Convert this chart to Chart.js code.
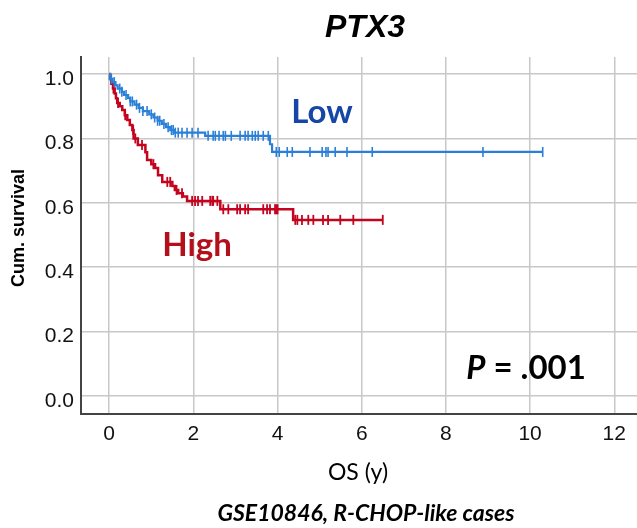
<!DOCTYPE html>
<html>
<head>
<meta charset="utf-8">
<script src="https://cdn.jsdelivr.net/npm/chart.js@4.4.1/dist/chart.umd.min.js"></script>
<style>
  body { margin: 0; background: #fff; }
  #wrap { width: 637px; height: 528px; }
</style>
</head>
<body>
<div id="wrap"><canvas id="kmChart" width="637" height="528"></canvas></div>
<script>
// Kaplan-Meier steps: time (years) and survival after that event
const lowTimes = [0, 0.02, 0.08, 0.15, 0.2, 0.3, 0.35, 0.45, 0.5, 0.6, 0.7, 0.8, 0.95, 1.05, 1.15, 1.25, 1.35, 1.45, 1.55, 2.28, 3.82, 3.87];
const lowSurv  = [1, 0.985, 0.975, 0.965, 0.955, 0.945, 0.935, 0.925, 0.915, 0.905, 0.895, 0.885, 0.875, 0.865, 0.855, 0.845, 0.835, 0.826, 0.818, 0.808, 0.782, 0.758];
const lowCensored = [0.05, 0.12, 0.25, 0.3, 0.4, 0.5, 0.55, 0.65, 0.72, 0.8, 0.9, 1.0, 1.08, 1.15, 1.2, 1.3, 1.4, 1.48, 1.52,
  1.57, 1.64, 1.73, 1.85, 1.97, 2.11, 2.35, 2.47, 2.52, 2.61, 2.71, 2.76, 2.9, 3.11, 3.23, 3.3, 3.4, 3.47, 3.54, 3.66, 3.78,
  3.97, 4.04, 4.23, 4.35, 4.77, 5.06, 5.15, 5.2, 5.37, 5.65, 6.25, 8.88, 10.3];

const highTimes = [0, 0.02, 0.05, 0.09, 0.13, 0.16, 0.19, 0.25, 0.31, 0.37, 0.43, 0.49, 0.55, 0.58, 0.68, 0.86, 0.9, 1.0, 1.09, 1.16, 1.26, 1.5, 1.56, 1.64, 1.75, 1.85, 2.64, 4.37];
const highSurv  = [1, 0.985, 0.97, 0.955, 0.94, 0.925, 0.91, 0.9, 0.888, 0.872, 0.857, 0.842, 0.826, 0.8, 0.78, 0.757, 0.733, 0.72, 0.708, 0.686, 0.665, 0.652, 0.64, 0.63, 0.62, 0.606, 0.58, 0.547];
const highCensored = [0.1, 0.21, 0.38, 0.57, 0.62, 0.78, 1.05, 1.38, 1.45, 1.6, 1.73,
  1.97, 2.04, 2.11, 2.21, 2.4, 2.45, 2.47, 2.57, 2.71, 2.83, 3.04, 3.11, 3.23, 3.3, 3.66, 3.75, 3.82, 3.94, 3.97, 4.0,
  4.42, 4.47, 4.58, 4.73, 4.85, 5.08, 5.2, 5.49, 5.8, 6.5];

const xTicks = [0, 2, 4, 6, 8, 10, 12];
const yTicks = [0, 0.2, 0.4, 0.6, 0.8, 1.0];

const blue = '#2a80d8';
const red = '#c4041f';

function survivalAt(times, surv, t) {
  let s = surv[0];
  for (let i = 0; i < times.length; i++) {
    if (times[i] <= t) s = surv[i];
  }
  return s;
}

function stepData(times, surv, censored) {
  const pts = times.map((t, i) => ({ x: t, y: surv[i] }));
  const end = Math.max(...censored);
  pts.push({ x: end, y: survivalAt(times, surv, end) });
  return pts;
}

function censorData(times, surv, censored) {
  return censored.map(t => ({ x: t, y: survivalAt(times, surv, t) }));
}

const textPlugin = {
  id: 'texts',
  afterDraw(chart) {
    const ctx = chart.ctx;
    ctx.save();
    ctx.fillStyle = '#000';
    ctx.textAlign = 'center';
    ctx.textBaseline = 'alphabetic';

    ctx.font = 'italic bold 32px "Liberation Sans"';
    ctx.fillText('PTX3', 365, 37);

    ctx.font = '23px Lato';
    ctx.fillText('OS (y)', 358, 480);

    ctx.font = 'italic bold 23px Lato';
    ctx.fillText('GSE10846, R-CHOP-like cases', 366, 521);

    ctx.fillStyle = '#1747a6';
    ctx.font = 'bold 33px Lato';
    ctx.fillText('Low', 322, 123);

    ctx.fillStyle = '#b3101c';
    ctx.fillText('High', 197, 256);

    // P value, italic P
    ctx.fillStyle = '#000';
    ctx.textAlign = 'left';
    ctx.font = 'italic bold 33px Lato';
    const pw = ctx.measureText('P').width;
    ctx.font = 'bold 33px Lato';
    const rest = ' = .001';
    const total = pw + ctx.measureText(rest).width;
    const px = 526 - total / 2;
    ctx.font = 'italic bold 33px Lato';
    ctx.fillText('P', px, 379);
    ctx.font = 'bold 33px Lato';
    ctx.fillText(rest, px + pw, 379);

    ctx.translate(19, 228);
    ctx.rotate(-Math.PI / 2);
    ctx.textAlign = 'center';
    ctx.textBaseline = 'middle';
    ctx.font = 'bold 18px "Liberation Sans"';
    ctx.fillText('Cum. survival', 0, 0);
    ctx.restore();
  }
};

new Chart(document.getElementById('kmChart').getContext('2d'), {
  type: 'scatter',
  data: {
    datasets: [
      { data: stepData(lowTimes, lowSurv, lowCensored), showLine: true, stepped: 'before',
        borderColor: blue, borderWidth: 2.2, pointRadius: 0 },
      { data: censorData(lowTimes, lowSurv, lowCensored), showLine: false,
        pointStyle: 'line', rotation: 90, pointRadius: 5, borderColor: blue, borderWidth: 1.6 },
      { data: stepData(highTimes, highSurv, highCensored), showLine: true, stepped: 'before',
        borderColor: red, borderWidth: 2.5, pointRadius: 0 },
      { data: censorData(highTimes, highSurv, highCensored), showLine: false,
        pointStyle: 'line', rotation: 90, pointRadius: 5, borderColor: red, borderWidth: 1.8 }
    ]
  },
  options: {
    responsive: false,
    animation: false,
    layout: { autoPadding: false, padding: { top: 57, right: 0, bottom: 0, left: 0 } },
    plugins: { legend: { display: false }, tooltip: { enabled: false } },
    scales: {
      x: {
        type: 'linear', min: -0.67, max: 12.54,
        afterBuildTicks: s => { s.ticks = xTicks.map(v => ({ value: v })); },
        afterFit: s => { s.height = 114; s.paddingLeft = 0; s.paddingRight = 0; },
        grid: { color: '#c8c8c8', lineWidth: 1.5, drawTicks: false },
        border: { color: '#444', width: 2 },
        ticks: { color: '#111', padding: 8, font: { family: 'Liberation Sans', size: 21 }, maxRotation: 0 }
      },
      y: {
        min: -0.056, max: 1.053,
        afterBuildTicks: s => { s.ticks = yTicks.map(v => ({ value: v })); },
        afterFit: s => { s.width = 81; s.paddingTop = 0; s.paddingBottom = 0; },
        grid: { color: '#c8c8c8', lineWidth: 1.5, drawTicks: false },
        border: { color: '#444', width: 2 },
        ticks: { color: '#111', padding: 7, labelOffset: 5, font: { family: 'Liberation Sans', size: 21 },
          callback: v => v.toFixed(1) }
      }
    }
  },
  plugins: [textPlugin]
});
</script>
</body>
</html>
